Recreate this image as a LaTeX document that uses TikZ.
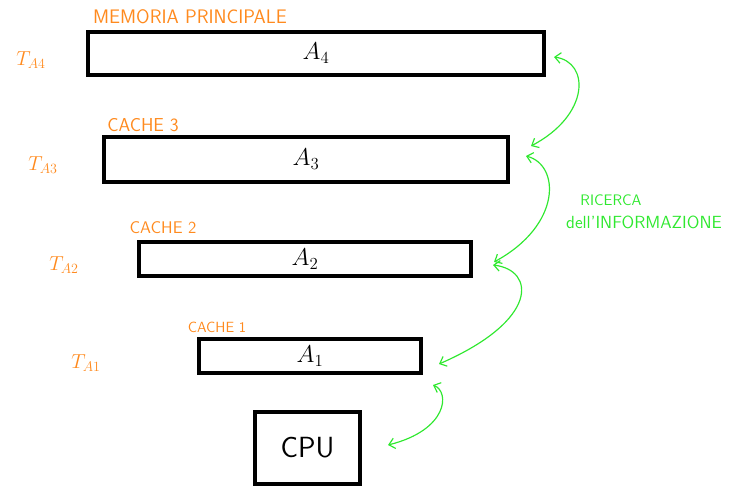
\documentclass[tikz,border=0pt]{standalone}
\usepackage{amsmath}
\usepackage{amssymb}
\usepackage{xcolor}
\usepackage{tikz}
\usetikzlibrary{arrows.meta}

\definecolor{arancio}{HTML}{FF8A1E}
\definecolor{verde}{HTML}{2FE82F}

\begin{document}
\begin{tikzpicture}[x=0.03cm, y=-0.03cm,
		livello/.style={draw, line width=2.6pt, inner sep=0pt, font=\huge},
		etich/.style={text=arancio, font=\sffamily},
		tempo/.style={text=arancio, font=\LARGE},
		ricerca/.style={draw=verde, line width=1pt, {Straight Barb[length=5pt,width=9pt]}-{Straight Barb[length=5pt,width=9pt]}}]
			\useasboundingbox (0,0) rectangle (734,497);
			% livelli della gerarchia
			\node[livello, minimum width=13.68cm, minimum height=1.29cm] at (316, 53.5) (a4) {$A_4$};
			\node[livello, minimum width=12.12cm, minimum height=1.35cm] at (306, 159.5) (a3) {$A_3$};
			\node[livello, minimum width=9.96cm, minimum height=1.02cm] at (305, 259) (a2) {$A_2$};
			\node[livello, minimum width=6.66cm, minimum height=1.02cm] at (310, 356) (a1) {$A_1$};
			\node[livello, minimum width=3.15cm, minimum height=2.16cm, font=\sffamily\Huge] at (307.5, 448) (cpu) {CPU};
			% nomi
			\node[etich, font=\sffamily\fontsize{16.7}{20}\selectfont] at (190, 17) (nm4) {MEMORIA PRINCIPALE};
			\node[etich, font=\sffamily\fontsize{16}{19}\selectfont] at (143, 125) (nm3) {CACHE 3};
			\node[etich, font=\sffamily\fontsize{14.4}{17}\selectfont] at (163, 228) (nm2) {CACHE 2};
			\node[etich, font=\sffamily\fontsize{12.6}{15}\selectfont] at (217, 327) (nm1) {CACHE 1};
			% tempi di accesso
			\node[tempo] at (31, 60) (t4) {$T_{A4}$};
			\node[tempo] at (43, 165) (t3) {$T_{A3}$};
			\node[tempo] at (64, 265) (t2) {$T_{A2}$};
			\node[tempo] at (86, 363) (t1) {$T_{A1}$};
			% estremi delle frecce
			\coordinate (p1) at (554, 57);
			\coordinate (q1) at (531, 146);
			\coordinate (p2) at (526, 156);
			\coordinate (q2) at (494, 262);
			\coordinate (p3) at (493, 265);
			\coordinate (q3) at (439, 364);
			\coordinate (p4) at (433, 385);
			\coordinate (q4) at (388, 445);
			\draw[ricerca] (p1) .. controls (590, 62) and (590, 115) .. (q1);
			\draw[ricerca] (p2) .. controls (560, 165) and (562, 225) .. (q2);
			\draw[ricerca] (p3) .. controls (535, 270) and (540, 320) .. (q3);
			\draw[ricerca] (p4) .. controls (450, 392) and (448, 430) .. (q4);
			\node[text=verde, font=\sffamily\fontsize{13}{15}\selectfont] at (611, 200) (r1) {RICERCA};
			\node[text=verde, font=\sffamily\fontsize{15}{18}\selectfont] at (644, 222) (r2) {dell'INFORMAZIONE};
		\end{tikzpicture}
\end{document}
